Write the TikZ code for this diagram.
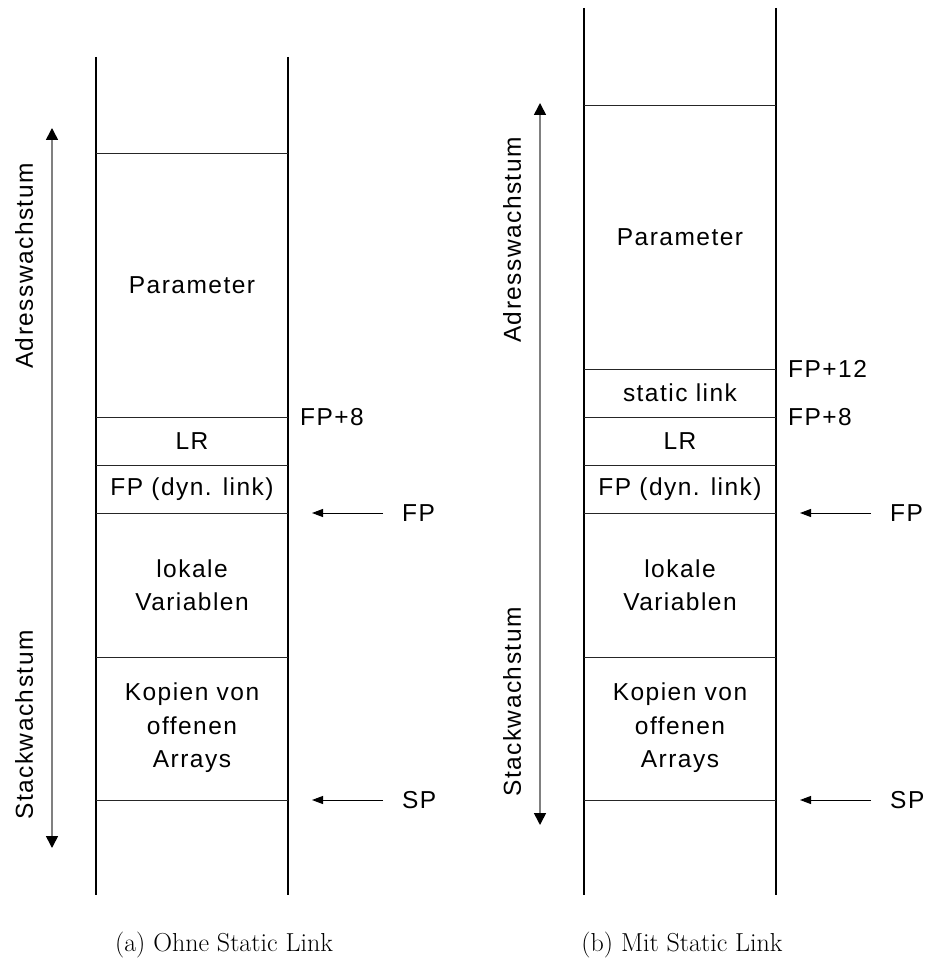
\documentclass[tikz,border=0pt]{standalone}
\usepackage{fontspec}
\newfontfamily\hv[LetterSpace=6]{Liberation Sans}
\usetikzlibrary{arrows.meta}
\begin{document}
\begin{tikzpicture}[x=1pt,y=-1pt,
  wall/.style={line width=1.3pt,black},
  sep/.style={line width=0.9pt,black!85},
  lbl/.style={font=\hv\fontsize{24.5}{33.5}\selectfont,align=center,inner sep=0pt},
  growth/.style={line width=1.6pt,gray,{Triangle[length=12pt,width=12pt,black]}-{Triangle[length=12pt,width=12pt,black]}},
  ptr/.style={line width=1pt,black,-{Triangle[length=11pt,width=8pt]}},
  captext/.style={font=\fontsize{26}{30}\selectfont,inner sep=0pt}
]
\useasboundingbox (0,0) rectangle (928,973);

% ---------------- left: (a) ----------------
\draw[wall] (96,57) -- (96,895);
\draw[wall] (288,57) -- (288,895);
\foreach \yy in {153,417,465,513,657,800} \draw[sep] (96,\yy) -- (288,\yy);

\node[lbl] (aparam) at (192,285) {Parameter};
\node[lbl] (alr) at (192,441) {LR};
\node[lbl] (afp) at (192,489) {FP (dyn. link)};
\node[lbl] (alok) at (192,585) {lokale\\Variablen};
\node[lbl] (akop) at (192,728) {Kopien von\\offenen\\Arrays};

\node[lbl,anchor=west] (afp8) at (300,417) {FP+8};
\node[lbl,anchor=west] (afpp) at (402,513) {FP};
\node[lbl,anchor=west] (asp) at (402,800) {SP};
\coordinate (afpS) at (383,513); \coordinate (afpE) at (312,513);
\coordinate (aspS) at (383,800); \coordinate (aspE) at (312,800);
\draw[ptr] (afpS) -- (afpE);
\draw[ptr] (aspS) -- (aspE);

\coordinate (agT) at (52,128); \coordinate (agB) at (52,848);
\draw[growth] (agT) -- (agB);
\node[lbl,rotate=90] (aadr) at (24,266) {Adresswachstum};
\node[lbl,rotate=90] (astk) at (24,725) {Stackwachstum};

\node[captext] (capa) at (224,945) {(a) Ohne Static Link};

% ---------------- right: (b) ----------------
\draw[wall] (584,8) -- (584,895);
\draw[wall] (776,8) -- (776,895);
\foreach \yy in {105,369,417,465,513,657,800} \draw[sep] (584,\yy) -- (776,\yy);

\node[lbl] (bparam) at (680,237) {Parameter};
\node[lbl] (bsl) at (680,393) {static link};
\node[lbl] (blr) at (680,441) {LR};
\node[lbl] (bfp) at (680,489) {FP (dyn. link)};
\node[lbl] (blok) at (680,585) {lokale\\Variablen};
\node[lbl] (bkop) at (680,728) {Kopien von\\offenen\\Arrays};

\node[lbl,anchor=west] (bfp12) at (788,369) {FP+12};
\node[lbl,anchor=west] (bfp8) at (788,417) {FP+8};
\node[lbl,anchor=west] (bfpp) at (890,513) {FP};
\node[lbl,anchor=west] (bsp) at (890,800) {SP};
\coordinate (bfpS) at (871,513); \coordinate (bfpE) at (800,513);
\coordinate (bspS) at (871,800); \coordinate (bspE) at (800,800);
\draw[ptr] (bfpS) -- (bfpE);
\draw[ptr] (bspS) -- (bspE);

\coordinate (bgT) at (540,103); \coordinate (bgB) at (540,825);
\draw[growth] (bgT) -- (bgB);
\node[lbl,rotate=90] (badr) at (512,240) {Adresswachstum};
\node[lbl,rotate=90] (bstk) at (512,702) {Stackwachstum};

\node[captext] (capb) at (682,945) {(b) Mit Static Link};
\end{tikzpicture}
\end{document}
